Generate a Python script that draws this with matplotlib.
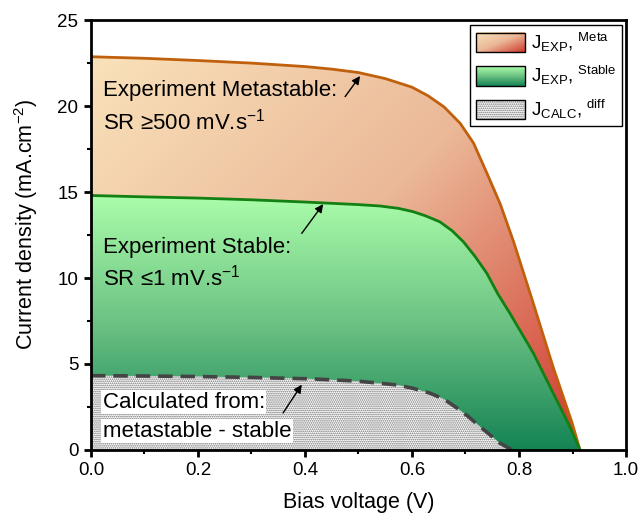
import numpy as np
import matplotlib
matplotlib.use("Agg")
import matplotlib.pyplot as plt
from matplotlib.colors import LinearSegmentedColormap
from matplotlib.legend_handler import HandlerBase
from matplotlib.image import BboxImage
from matplotlib.transforms import Bbox, TransformedBbox
from matplotlib.patches import Rectangle, Patch
from matplotlib.ticker import MultipleLocator

plt.rcParams['font.family'] = ['Liberation Sans', 'DejaVu Sans']
plt.rcParams['mathtext.fontset'] = 'custom'
plt.rcParams['mathtext.rm'] = 'Liberation Sans'
plt.rcParams['mathtext.it'] = 'Liberation Sans:italic'
plt.rcParams['hatch.linewidth'] = 0.8

# ---- data ----
meta_v = [0, 0.1, 0.2, 0.3, 0.4, 0.45, 0.5, 0.55, 0.6, 0.63, 0.66, 0.69,
          0.715, 0.74, 0.765, 0.79, 0.826, 0.864, 0.899, 0.914]
meta_j = [22.87, 22.78, 22.65, 22.5, 22.3, 22.15, 21.95, 21.6, 21.1, 20.6,
          19.95, 19.0, 17.85, 16.1, 14.3, 12.1, 8.6, 4.8, 1.6, 0]

stable_v = [0, 0.1, 0.2, 0.3, 0.4, 0.5, 0.54, 0.575, 0.602, 0.625, 0.652,
            0.675, 0.696, 0.718, 0.74, 0.76, 0.783, 0.827, 0.864, 0.895, 0.914]
stable_j = [14.8, 14.72, 14.65, 14.55, 14.42, 14.27, 14.19, 14.05, 13.86,
            13.62, 13.27, 12.75, 12.11, 11.25, 10.27, 9.1, 7.95, 5.62, 3.3,
            1.36, 0]

diff_v = [0, 0.1, 0.2, 0.3, 0.415, 0.5, 0.572, 0.6, 0.634, 0.66, 0.684,
          0.705, 0.727, 0.745, 0.764, 0.787]
diff_j = [4.32, 4.3, 4.27, 4.22, 4.13, 4.0, 3.78, 3.6, 3.3, 2.95, 2.44,
          1.95, 1.36, 0.9, 0.4, 0]

legend_labels = [r'J$_\mathregular{EXP}$, $^\mathregular{Meta}$',
                 r'J$_\mathregular{EXP}$, $^\mathregular{Stable}$',
                 r'J$_\mathregular{CALC}$, $^\mathregular{diff}$']

meta_cmap = LinearSegmentedColormap.from_list(
    'meta', ['#f9e2ba', '#ebb898', '#d03a2e'])
stable_cmap = LinearSegmentedColormap.from_list(
    'stable', ['#aafdaa', '#6cc283', '#158455'])

HATCH = '........'
HATCH_COLOR = '#707070'

fig = plt.figure(figsize=(6.38, 5.16), dpi=100)
ax = fig.add_axes([0.1426, 0.128, 0.8386, 0.833])
ax.set_xlim(0, 1.0)
ax.set_ylim(0, 25)

# meta gradient fill
poly_m = ax.fill_between(meta_v, 0, meta_j, facecolor='none', edgecolor='none')
n = 300
X, Y = np.meshgrid(np.linspace(0, 1, n), np.linspace(25, 0, n))
tm = np.clip(0.55 * (X / 0.9) + 0.45 * (1 - Y / 23.0), 0, 1)
im_m = ax.imshow(tm, cmap=meta_cmap, extent=[0, 1, 0, 25], aspect='auto',
                 interpolation='bilinear', zorder=1, vmin=0, vmax=1)
im_m.set_clip_path(poly_m.get_paths()[0], ax.transData)

# stable gradient fill
poly_s = ax.fill_between(stable_v, 0, stable_j, facecolor='none', edgecolor='none')
ts = np.clip(1 - Y / 14.8, 0, 1)
im_s = ax.imshow(ts, cmap=stable_cmap, extent=[0, 1, 0, 25], aspect='auto',
                 interpolation='bilinear', zorder=2, vmin=0, vmax=1)
im_s.set_clip_path(poly_s.get_paths()[0], ax.transData)

# diff hatched fill
ax.fill_between(diff_v, 0, diff_j, facecolor='white', edgecolor=HATCH_COLOR,
                linewidth=0, hatch=HATCH, zorder=3)

ax.plot(meta_v, meta_j, color='#c0600c', lw=2.0, zorder=4)
ax.plot(stable_v, stable_j, color='#138013', lw=2.0, zorder=4)
ax.plot(diff_v, diff_j, color='#444444', lw=2.6, dashes=(4, 2.2), zorder=4)

# annotations
fs = 16
ax.text(0.022, 20.9, 'Experiment Metastable:', fontsize=fs, va='center', zorder=6)
ax.text(0.022, 19.1, r'SR ≥500 mV.s$^{-1}$', fontsize=fs, va='center', zorder=6)
ax.text(0.022, 11.8, 'Experiment Stable:', fontsize=fs, va='center', zorder=6)
ax.text(0.022, 10.0, r'SR ≤1 mV.s$^{-1}$', fontsize=fs, va='center', zorder=6)
ax.text(0.022, 2.78, 'Calculated from:', fontsize=fs, va='center', zorder=6,
        bbox=dict(facecolor='white', edgecolor='none', pad=1.0))
ax.text(0.022, 1.1, 'metastable - stable', fontsize=fs, va='center', zorder=6,
        bbox=dict(facecolor='white', edgecolor='none', pad=1.0))

arrowprops = dict(arrowstyle='-|>', color='black', lw=1.0, mutation_scale=12,
                  shrinkA=0, shrinkB=0)
ax.annotate('', xy=(0.503, 21.75), xytext=(0.475, 20.55), arrowprops=arrowprops, zorder=7)
ax.annotate('', xy=(0.434, 14.3), xytext=(0.394, 12.6), arrowprops=arrowprops, zorder=7)
ax.annotate('', xy=(0.394, 3.8), xytext=(0.359, 2.15), arrowprops=arrowprops, zorder=7)

# axes styling
for s in ax.spines.values():
    s.set_linewidth(2.0)
    s.set_zorder(10)
ax.xaxis.set_major_locator(MultipleLocator(0.2))
ax.xaxis.set_minor_locator(MultipleLocator(0.1))
ax.yaxis.set_major_locator(MultipleLocator(5))
ax.yaxis.set_minor_locator(MultipleLocator(2.5))
ax.tick_params(which='major', direction='out', length=5, width=2,
               labelsize=13.5, top=False, right=False, pad=4)
ax.tick_params(which='minor', direction='out', length=3, width=1.5,
               top=False, right=False)
ax.xaxis.set_major_formatter(plt.FuncFormatter(lambda v, p: f'{v:.1f}'))
ax.yaxis.set_major_formatter(plt.FuncFormatter(lambda v, p: f'{v:.0f}'))
ax.set_xlabel('Bias voltage (V)', fontsize=15.5, labelpad=9)
ax.set_ylabel(r'Current density (mA.cm$^{-2}$)', fontsize=15.5)
ax.yaxis.set_label_coords(-0.095, 0.525)


# legend handlers
class GradHandler(HandlerBase):
    def __init__(self, cmap, kind):
        super().__init__()
        self.cmap = cmap
        self.kind = kind

    def create_artists(self, legend, orig_handle, xdescent, ydescent,
                       width, height, fontsize, trans):
        m = 50
        xx, yy = np.meshgrid(np.linspace(0, 1, m), np.linspace(0, 1, m))
        if self.kind == 'diag':
            data = 0.5 * xx + 0.5 * yy
        else:
            data = yy
        bb = TransformedBbox(Bbox.from_bounds(-xdescent, -ydescent, width, height), trans)
        img = BboxImage(bb, cmap=self.cmap, interpolation='bilinear')
        img.set_data(data)
        img.set_clim(0, 1)
        rect = Rectangle((-xdescent, -ydescent), width, height, facecolor='none',
                         edgecolor='black', lw=1.0, transform=trans)
        return [img, rect]


class HatchHandler(HandlerBase):
    def create_artists(self, legend, orig_handle, xdescent, ydescent,
                       width, height, fontsize, trans):
        r1 = Rectangle((-xdescent, -ydescent), width, height, facecolor='white',
                       edgecolor=HATCH_COLOR, lw=0, hatch=HATCH, transform=trans)
        r2 = Rectangle((-xdescent, -ydescent), width, height, facecolor='none',
                       edgecolor='black', lw=1.0, transform=trans)
        return [r1, r2]


h1 = Patch(label=legend_labels[0])
h2 = Patch(label=legend_labels[1])
h3 = Patch(label=legend_labels[2])
leg = ax.legend([h1, h2, h3], legend_labels,
                handler_map={h1: GradHandler(meta_cmap, 'diag'),
                             h2: GradHandler(stable_cmap, 'vert'),
                             h3: HatchHandler()},
                loc='upper right', bbox_to_anchor=(0.993, 0.988),
                borderaxespad=0, fancybox=False, edgecolor='black',
                framealpha=1, fontsize=13.5, handlelength=2.6,
                handleheight=1.2, labelspacing=0.55, handletextpad=0.35,
                borderpad=0.3)
leg.get_frame().set_linewidth(1.0)
leg.set_zorder(12)

fig.savefig('out.png', dpi=100)
